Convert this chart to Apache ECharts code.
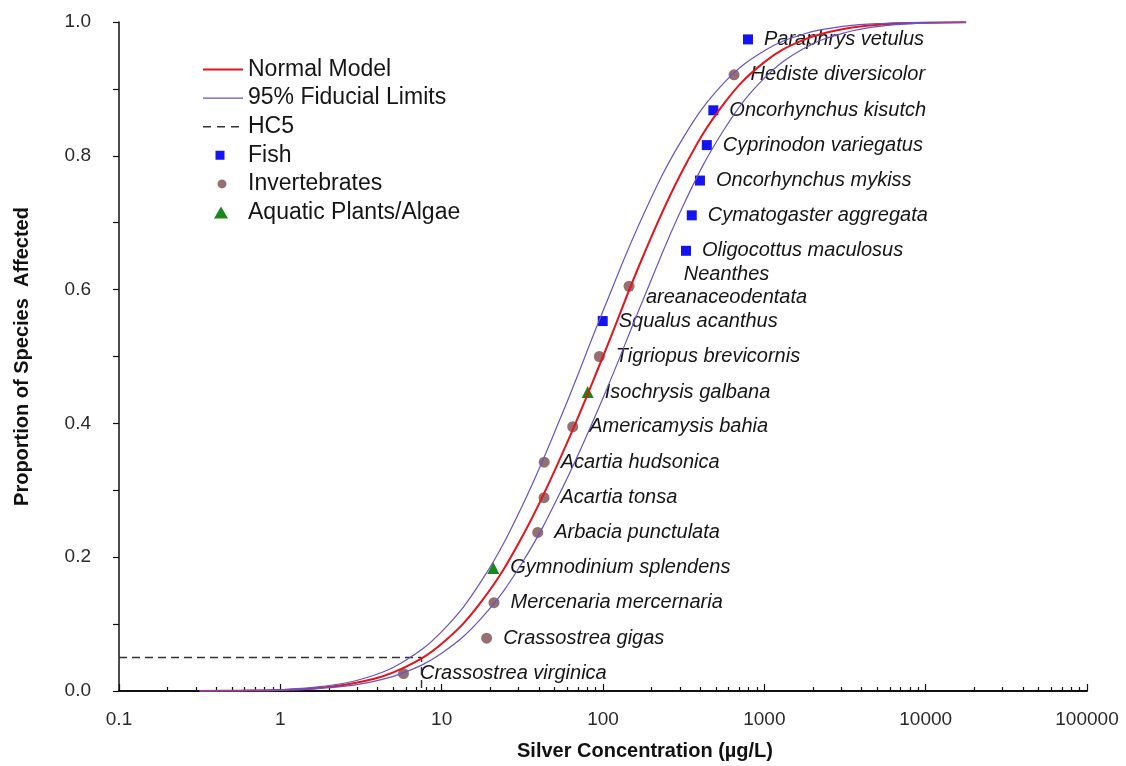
<!DOCTYPE html>
<html>
<head>
<meta charset="utf-8">
<script src="https://cdn.jsdelivr.net/npm/echarts@6/dist/echarts.min.js"></script>
<style>
  html, body { margin: 0; padding: 0; background: #fff; }
  #chart { width: 1126px; height: 766px; }
</style>
</head>
<body>
<div id="chart"></div>
<script>
// Species sensitivity distribution for silver: ranked species toxicity values
const speciesNames = [
  'Crassostrea virginica', 'Crassostrea gigas', 'Mercenaria mercernaria', 'Gymnodinium splendens',
  'Arbacia punctulata', 'Acartia tonsa', 'Acartia hudsonica', 'Americamysis bahia',
  'Isochrysis galbana', 'Tigriopus brevicornis', 'Squalus acanthus', 'Neanthes areanaceodentata',
  'Oligocottus maculosus', 'Cymatogaster aggregata', 'Oncorhynchus mykiss', 'Cyprinodon variegatus',
  'Oncorhynchus kisutch', 'Hediste diversicolor', 'Paraphrys vetulus'
];
const speciesGroup = [
  'Invertebrates', 'Invertebrates', 'Invertebrates', 'Aquatic Plants/Algae',
  'Invertebrates', 'Invertebrates', 'Invertebrates', 'Invertebrates',
  'Aquatic Plants/Algae', 'Invertebrates', 'Fish', 'Invertebrates',
  'Fish', 'Fish', 'Fish', 'Fish',
  'Fish', 'Invertebrates', 'Fish'
];
// Silver concentration (µg/L)
const speciesConc = [5.8, 19.0, 21.1, 20.9, 39.4, 43.1, 43.2, 64.9, 80.4, 94.9, 99.6, 145, 327, 355, 399, 440, 483, 649, 792];
// Proportion of species affected (plotting position)
const speciesProp = [0.026, 0.079, 0.132, 0.184, 0.237, 0.289, 0.342, 0.395, 0.447, 0.500, 0.553, 0.605, 0.658, 0.711, 0.763, 0.816, 0.868, 0.921, 0.974];

// Fitted normal model and its 95% fiducial limits
const curveConc   = [0.316, 0.562, 1, 1.78, 3.16, 5.62, 10, 17.8, 31.6, 56.2, 100, 178, 316, 562, 1000, 1780, 3160, 5620, 10000, 17800];
const normalModel = [0.0001, 0.0005, 0.0016, 0.005, 0.0137, 0.033, 0.0707, 0.135, 0.231, 0.356, 0.5, 0.651, 0.781, 0.878, 0.940, 0.974, 0.990, 0.9967, 0.999, 0.9998];
const upperLimit  = [0.00015, 0.0006, 0.0021, 0.0065, 0.0176, 0.042, 0.0888, 0.166, 0.277, 0.416, 0.568, 0.712, 0.828, 0.909, 0.957, 0.9825, 0.9937, 0.998, 0.9995, 0.9999];
const lowerLimit  = [0.0001, 0.0004, 0.0013, 0.0039, 0.0107, 0.026, 0.0564, 0.110, 0.192, 0.304, 0.438, 0.586, 0.727, 0.839, 0.916, 0.961, 0.984, 0.9945, 0.9983, 0.9995];

// Hazardous concentration for 5% of species
const hc5Conc = 7.5;
const hc5Level = 0.05;

// Axis ticks
const xMajorTicks = [0.1, 1, 10, 100, 1000, 10000, 100000];
const xTickLabels = ['0.1', '1', '10', '100', '1000', '10000', '100000'];
const yTickLabels = ['0.0', '0.2', '0.4', '0.6', '0.8', '1.0'];

const xMinorTicks = [];
xMajorTicks.slice(0, -1).forEach(d => {
  for (let k = 2; k <= 9; k++) xMinorTicks.push(+(d * k).toPrecision(3));
});

const FONT = '"Liberation Sans", Arial, Helvetica, sans-serif';
const INK = '#111';

const groupStyle = {
  'Fish': { symbol: 'rect', size: 10, color: '#1414f0' },
  'Invertebrates': { symbol: 'circle', size: 11, color: '#957070' },
  'Aquatic Plants/Algae': { symbol: 'triangle', size: 12, color: '#1a871a' }
};

// Legend keys drawn in a 40 x 14 box (tiny corner dots pin the box size)
const BOX = 'M0,0h0.01v0.01h-0.01z M39.99,13.99h0.01v0.01h-0.01z ';
const legendIcons = {
  'Normal Model': 'path://' + BOX + 'M0,6h40v2h-40z',
  '95% Fiducial Limits': 'path://' + BOX + 'M0,6.4h40v1.2h-40z',
  'HC5': 'path://' + BOX + 'M0,6.25h8v1.5h-8z M14,6.25h8v1.5h-8z M28,6.25h8v1.5h-8z',
  'Fish': 'path://' + BOX + 'M12.5,2.5h9v9h-9z',
  'Invertebrates': 'path://' + BOX + 'M23.5,7a4.5,4.5 0 1,1 -9,0a4.5,4.5 0 1,1 9,0z',
  'Aquatic Plants/Algae': 'path://' + BOX + 'M18,1L25,13L11,13Z'
};

function groupData(group) {
  const out = [];
  speciesNames.forEach((name, i) => {
    if (speciesGroup[i] !== group) return;
    const item = { name: name, value: [speciesConc[i], speciesProp[i]] };
    if (name === 'Neanthes areanaceodentata') {
      item.label = {
        formatter: () => name.replace(' ', '\n'),
        align: 'center',
        offset: [81, 0],
        lineHeight: 23
      };
    }
    out.push(item);
  });
  return out;
}

function zip(xs, ys) { return xs.map((x, i) => [x, ys[i]]); }

const scatterSeries = Object.keys(groupStyle).map(g => ({
  name: g,
  type: 'scatter',
  z: 2,
  symbol: groupStyle[g].symbol,
  symbolSize: groupStyle[g].size,
  itemStyle: { color: groupStyle[g].color, opacity: 1 },
  data: groupData(g),
  label: {
    show: true,
    position: 'right',
    distance: 11,
    formatter: '{b}',
    fontFamily: FONT,
    fontStyle: 'italic',
    fontSize: 20,
    color: '#151515'
  }
}));

const chart = echarts.init(document.getElementById('chart'), null, { renderer: 'canvas' });

chart.setOption({
  animation: false,
  backgroundColor: '#fff',
  grid: { left: 119, right: 39, top: 22, bottom: 74, containLabel: false },
  legend: {
    orient: 'vertical',
    left: 198,
    top: 53,
    itemWidth: 40,
    itemHeight: 14,
    itemGap: 5.6,
    selectedMode: false,
    itemStyle: { borderWidth: 0, opacity: 1 },
    textStyle: { fontFamily: FONT, fontSize: 23, color: '#151515' },
    data: Object.keys(legendIcons).map(n => ({ name: n, icon: legendIcons[n] }))
  },
  xAxis: [
    {
      type: 'log', logBase: 10, min: 0.1, max: 100000, position: 'bottom',
      name: 'Silver Concentration (µg/L)',
      nameLocation: 'middle', nameGap: 50,
      nameTextStyle: { fontFamily: FONT, fontSize: 20, fontWeight: 'bold', color: INK, padding: [0, 0, 0, 84] },
      axisLine: { show: true, lineStyle: { color: INK, width: 2 } },
      axisTick: { show: true, inside: true, length: 7, customValues: xMajorTicks, lineStyle: { color: INK, width: 1.2 } },
      minorTick: { show: false },
      axisLabel: {
        customValues: xMajorTicks,
        margin: 19,
        fontFamily: FONT, fontSize: 19, color: '#2a2a2a',
        formatter: v => {
          let best = 0, bd = Infinity;
          xMajorTicks.forEach((t, i) => {
            const d = Math.abs(Math.log10(v) - Math.log10(t));
            if (d < bd) { bd = d; best = i; }
          });
          return xTickLabels[best];
        }
      },
      splitLine: { show: false }
    },
    {
      type: 'log', logBase: 10, min: 0.1, max: 100000, position: 'bottom',
      axisLine: { show: false },
      axisTick: { show: true, inside: true, length: 4, customValues: xMinorTicks, lineStyle: { color: INK, width: 1.2 } },
      axisLabel: { show: false },
      splitLine: { show: false }
    }
  ],
  yAxis: {
    type: 'value', min: 0, max: 1, interval: 0.2,
    name: 'Proportion of Species  Affected',
    nameLocation: 'middle', nameGap: 87, nameRotate: 90,
    nameTextStyle: { fontFamily: FONT, fontSize: 20, fontWeight: 'bold', color: INK },
    axisLine: { show: true, lineStyle: { color: INK, width: 1.5 } },
    axisTick: { show: true, inside: false, length: 6, lineStyle: { color: INK, width: 1.2 } },
    minorTick: { show: true, splitNumber: 2, length: 6, lineStyle: { color: INK, width: 1.2 } },
    axisLabel: {
      margin: 28, fontFamily: FONT, fontSize: 19, color: '#2a2a2a',
      formatter: v => yTickLabels[Math.round(v / 0.2)]
    },
    splitLine: { show: false }
  },
  series: [
    {
      name: 'Normal Model', type: 'line', z: 4, smooth: 0.4, symbol: 'none',
      lineStyle: { color: '#e3141c', width: 2 }, itemStyle: { color: '#e3141c' },
      data: zip(curveConc, normalModel)
    },
    {
      name: '95% Fiducial Limits', type: 'line', z: 4, smooth: 0.4, symbol: 'none',
      lineStyle: { color: '#6a52c4', width: 1.2 }, itemStyle: { color: '#6a52c4' },
      data: zip(curveConc, upperLimit)
    },
    {
      name: '95% Fiducial Limits', type: 'line', z: 4, smooth: 0.4, symbol: 'none',
      lineStyle: { color: '#6a52c4', width: 1.2 }, itemStyle: { color: '#6a52c4' },
      data: zip(curveConc, lowerLimit)
    },
    {
      name: 'HC5', type: 'line', z: 3, symbol: 'none',
      lineStyle: { color: '#333', width: 1.5, type: [8, 5] }, itemStyle: { color: '#333' },
      data: [[xMajorTicks[0], hc5Level], [hc5Conc, hc5Level], [hc5Conc, 0]]
    }
  ].concat(scatterSeries)
});
</script>
</body>
</html>
